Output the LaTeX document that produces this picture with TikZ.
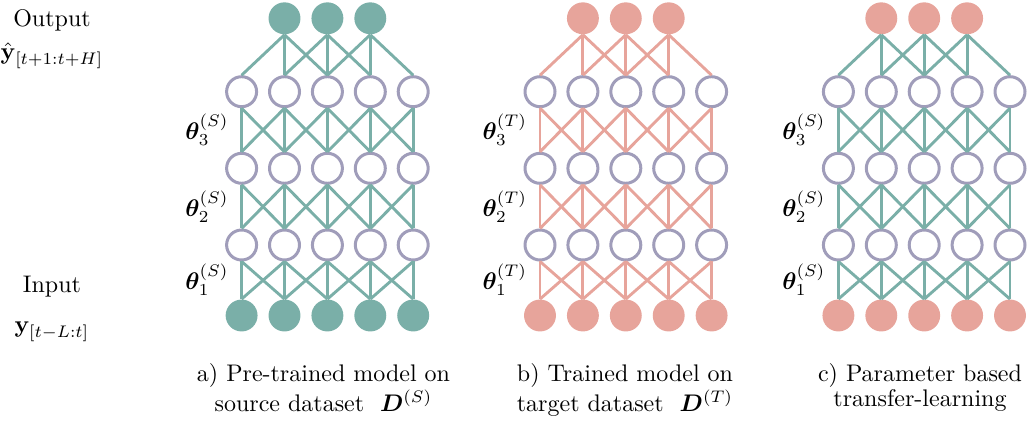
\documentclass[tikz,border=0pt]{standalone}
\usepackage{amsmath,bm}
\definecolor{srcteal}{RGB}{122,175,168}
\definecolor{tgtpink}{RGB}{231,164,155}
\definecolor{unitgray}{RGB}{160,157,186}
\tikzset{
  hid/.style={circle, draw=unitgray, line width=1.25pt, fill=white,
              minimum size=12.5pt, inner sep=0pt},
  io/.style={circle, fill=#1, minimum size=13.3pt, inner sep=0pt},
  wire/.style={draw=#1, line width=1.2pt},
  captext/.style={align=center, inner sep=0pt, anchor=north,
              font=\fontsize{10pt}{10.4pt}\selectfont},
}
% One network: #1 x of first unit, #2 name prefix, #3 colour of input/output
% units, #4 colour of the weights, #5 superscript of the parameters
\newcommand{\netdiagram}[5]{%
  \foreach \i in {1,...,5} {
    \node[hid] (#2-h1-\i) at ({#1+(\i-1)*42.9},91.7) {};
    \node[hid] (#2-h2-\i) at ({#1+(\i-1)*42.9},168.3) {};
    \node[hid] (#2-h3-\i) at ({#1+(\i-1)*42.9},245) {};
    \node[io=#3] (#2-in-\i) at ({#1+(\i-1)*42.9},315.5) {};
  }
  \foreach \i in {2,3,4}
    \node[io=#3] (#2-out-\i) at ({#1+(\i-1)*42.9},18.3) {};
  \foreach \i/\j in {1/1,1/2,2/1,2/2,2/3,3/2,3/3,3/4,4/3,4/4,4/5,5/4,5/5} {
    \draw[wire=#4] (#2-h1-\i.south) -- (#2-h2-\j.north);
    \draw[wire=#4] (#2-h2-\i.south) -- (#2-h3-\j.north);
    \draw[wire=#4] (#2-h3-\i.south) -- (#2-in-\j.north);
  }
  \foreach \i/\j in {2/1,2/2,2/3,3/2,3/3,3/4,4/3,4/4,4/5}
    \draw[wire=#4] (#2-out-\i.south) -- (#2-h1-\j.north);
  \node[anchor=east, inner sep=0pt] (#2-th3) at ({#1-12.5},130) {$\bm{\theta}_3^{(#5)}$};
  \node[anchor=east, inner sep=0pt] (#2-th2) at ({#1-12.5},206.7) {$\bm{\theta}_2^{(#5)}$};
  \node[anchor=east, inner sep=0pt] (#2-th1) at ({#1-12.5},280) {$\bm{\theta}_1^{(#5)}$};
}
\begin{document}
\begin{tikzpicture}[x=0.4167pt, y=-0.4167pt]
  \useasboundingbox (0,0) rectangle (1032,428);
  % input / output descriptions
  \node[anchor=base, inner sep=0pt] (outlbl) at (52,27) {Output};
  \node[anchor=base, inner sep=0pt] (outvar) at (52,60) {$\hat{\mathbf{y}}_{[t+1:t+H]}$};
  \node[anchor=base, inner sep=0pt] (inlbl) at (52,293) {Input};
  \node[anchor=base, inner sep=0pt] (invar) at (52,333) {$\mathbf{y}_{[t-L:t]}$};
  % the three networks
  \netdiagram{241.6}{src}{srcteal}{srcteal}{S}
  \netdiagram{540}{tgt}{tgtpink}{tgtpink}{T}
  \netdiagram{838.4}{tl}{tgtpink}{srcteal}{S}
  % captions
  \node[captext] (capa) at (323.5,363.5) {a) Pre-trained model on\\ source dataset\ \ $\bm{D}^{(S)}$};
  \node[captext] (capb) at (625,363.5) {b) Trained model on\\ target dataset\ \ $\bm{D}^{(T)}$};
  \node[captext] (capc) at (920,363.5) {c) Parameter based\\ transfer-learning};
\end{tikzpicture}
\end{document}
